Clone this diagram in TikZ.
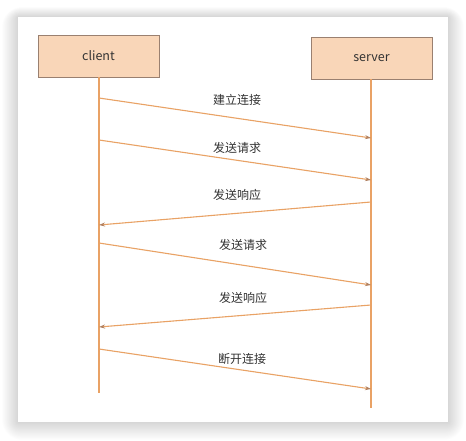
\documentclass[tikz,border=0pt]{standalone}
\usepackage{fontspec}
\setmainfont{Noto Sans CJK SC}
\usetikzlibrary{arrows.meta}
\definecolor{lineor}{HTML}{E9A265}
\definecolor{boxfill}{HTML}{F9D6B8}
\definecolor{boxdraw}{HTML}{9A8070}
\definecolor{txt}{HTML}{333333}
\definecolor{tipc}{HTML}{B08060}
\tikzset{
  actor/.style={draw=boxdraw, fill=boxfill, line width=0.8pt, minimum width=121pt, minimum height=42pt, inner sep=0pt, font=\fontsize{12.5}{14}\selectfont, text=txt},
  life/.style={draw=lineor, line width=1.1pt},
  msg/.style={draw=lineor, line width=1.1pt, -{Stealth[length=6pt,width=4pt,color=tipc]}},
  lbl/.style={font=\fontsize{12}{14}\selectfont, text=txt, inner sep=1pt}
}
\begin{document}
\begin{tikzpicture}[x=1pt,y=-1pt]
\useasboundingbox (0,0) rectangle (466,441);
\fill[white] (0,0) rectangle (466,441);
% soft shadow around card
\foreach \i in {1,...,20}{
  \fill[black, opacity=0.009, rounded corners=\i pt] (18-\i*0.8,17-\i*0.5) rectangle (448+\i*0.8,422+\i*0.9);
}
\fill[white] (18,17) rectangle (448,422);
% actors
\node[actor] (client) at (98.5,56) {client};
\node[actor] (server) at (371.5,58) {server};
% lifelines
\coordinate (cend) at (99,393);
\coordinate (send) at (371,408);
\draw[life] (client.south -| cend) -- (cend);
\draw[life] (server.south -| send) -- (send);
% message points
\coordinate (c1) at (99,98);   \coordinate (s1) at (371,138);
\coordinate (c2) at (99,140);  \coordinate (s2) at (371,180);
\coordinate (s3) at (371,202); \coordinate (c3) at (99,225);
\coordinate (c4) at (99,243);  \coordinate (s4) at (371,285);
\coordinate (s5) at (371,305); \coordinate (c5) at (99,327);
\coordinate (c6) at (99,349);  \coordinate (s6) at (371,389);
\draw[msg] (c1) -- (s1);
\draw[msg] (c2) -- (s2);
\draw[msg] (s3) -- (c3);
\draw[msg] (c4) -- (s4);
\draw[msg] (s5) -- (c5);
\draw[msg] (c6) -- (s6);
% labels
\node[lbl] (l1) at (237,100) {建立连接};
\node[lbl] (l2) at (237,148) {发送请求};
\node[lbl] (l3) at (237,195) {发送响应};
\node[lbl] (l4) at (243,245) {发送请求};
\node[lbl] (l5) at (243,298) {发送响应};
\node[lbl] (l6) at (242,359) {断开连接};
\end{tikzpicture}
\end{document}
